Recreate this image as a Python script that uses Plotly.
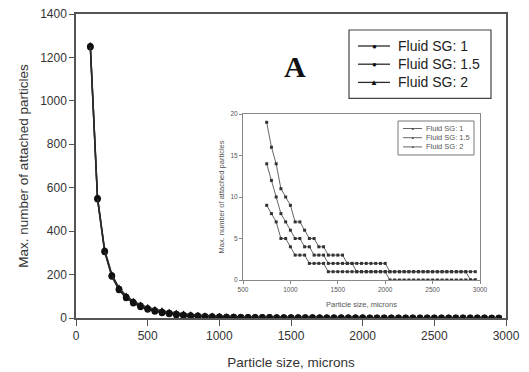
import plotly.graph_objects as go

# ---- data ----
sizes = list(range(100, 3000, 50))  # 100 .. 2950 microns

sg1_small = [1247, 547, 304, 191, 129, 92, 68, 51, 39, 30, 23, 18, 13]
sg15_small = [1252, 552, 309, 196, 134, 97, 73, 56, 44, 35, 28, 23, 18]
sg2_small = [1256, 556, 313, 200, 139, 102, 78, 61, 49, 40, 34, 28, 23]

# values from 750 .. 2950 (inset)
inset_sizes = list(range(750, 3000, 50))
sg1_tail = [9, 8, 7, 5, 5, 4, 3, 3, 3, 2, 2, 2, 2] + [1] * 13 + [0] * 19
sg15_tail = [14, 12, 10, 8, 7, 6, 5, 5, 4, 4, 3, 3, 3] + [2] * 6 + [1] * 24 + [0] * 2
sg2_tail = [19, 16, 14, 11, 10, 9, 7, 7, 6, 5, 5, 4, 4] + [3] * 4 + [2] * 9 + [1] * 19

sg1 = sg1_small + sg1_tail
sg15 = sg15_small + sg15_tail
sg2 = sg2_small + sg2_tail

names = ["Fluid SG: 1", "Fluid SG: 1.5", "Fluid SG: 2"]
series = [sg1, sg15, sg2]
tails = [sg1_tail, sg15_tail, sg2_tail]
symbols = ["circle", "circle", "triangle-up"]
legend_glyphs = ["●", "●", "▲"]

fig = go.Figure()
for nm, ys, sym in zip(names, series, symbols):
    fig.add_trace(go.Scatter(
        x=sizes, y=ys, name=nm, mode="lines+markers",
        line=dict(color="#2a2a2a", width=1.5),
        marker=dict(symbol=sym, size=6.5, color="#111111"),
        xaxis="x", yaxis="y", showlegend=False,
    ))
for nm, ys in zip(names, tails):
    fig.add_trace(go.Scatter(
        x=inset_sizes, y=ys, name=nm, mode="lines+markers",
        line=dict(color="#666666", width=1),
        marker=dict(symbol="square", size=3, color="#333333"),
        xaxis="x2", yaxis="y2", showlegend=False,
    ))

# plot-area geometry (pixels) for converting legend placement to paper coords
L, T, W, H = 76, 14, 430, 304
def px(x):
    return (x - L) / W
def py(y):
    return (T + H - y) / H

shapes = []
annotations = []

# main legend (drawn manually for compact spacing)
main_font = 14
row_gap = main_font * 1.3
row0 = 46
shapes.append(dict(type="rect", xref="paper", yref="paper",
                   x0=px(349), x1=px(491), y0=py(row0 + 2 * row_gap + 16), y1=py(row0 - 16),
                   line=dict(color="#444444", width=1.2), fillcolor="white", layer="above"))
for i, g in enumerate(legend_glyphs):
    yc = row0 + row_gap * i
    shapes.append(dict(type="line", xref="paper", yref="paper",
                       x0=px(358), x1=px(390), y0=py(yc), y1=py(yc),
                       line=dict(color="#2a2a2a", width=1.3), layer="above"))
    annotations.append(dict(text=g, x=px(374), y=py(yc), xref="paper", yref="paper",
                            xanchor="center", yanchor="middle", showarrow=False,
                            font=dict(size=8, color="#111111")))
annotations.append(dict(text="<br>".join(names), x=px(396), y=py(row0 + row_gap),
                        xref="paper", yref="paper", align="left",
                        xanchor="left", yanchor="middle", showarrow=False,
                        font=dict(family="Liberation Sans, Arial", size=main_font, color="#222222")))

# inset legend
shapes.append(dict(type="rect", xref="paper", yref="paper",
                   x0=px(398), x1=px(474), y0=py(155), y1=py(121),
                   line=dict(color="#777777", width=1), fillcolor="white", layer="above"))
for i, nm in enumerate(names):
    yc = 128.5 + 9.2 * i
    shapes.append(dict(type="line", xref="paper", yref="paper",
                       x0=px(403), x1=px(422), y0=py(yc), y1=py(yc),
                       line=dict(color="#666666", width=1), layer="above"))
    annotations.append(dict(text="■", x=px(412.5), y=py(yc), xref="paper", yref="paper",
                            xanchor="center", yanchor="middle", showarrow=False,
                            font=dict(size=3, color="#333333")))
    annotations.append(dict(text=nm, x=px(424), y=py(yc), xref="paper", yref="paper",
                            xanchor="left", yanchor="middle", showarrow=False,
                            font=dict(family="Liberation Sans, Arial", size=7.5, color="#555555")))

annotations.append(dict(
    text="<b>A</b>", x=px(295), y=py(67), xref="paper", yref="paper",
    xanchor="center", yanchor="middle", showarrow=False,
    font=dict(family="Liberation Serif, Times New Roman", size=30, color="#111111"),
))

axis_font = dict(family="Liberation Sans, Arial", size=12, color="#333333")
fig.update_layout(
    width=529, height=372,
    margin=dict(l=L, r=529 - L - W, t=T, b=372 - T - H, autoexpand=False),
    paper_bgcolor="white", plot_bgcolor="white",
    font=dict(family="Liberation Sans, Arial", color="#222222"),
    showlegend=False,
    xaxis=dict(
        range=[0, 3000], tickvals=[0, 500, 1000, 1500, 2000, 2500, 3000],
        showgrid=False, zeroline=False, showline=True, mirror=True, automargin=False,
        linecolor="#555555", linewidth=1.5, ticks="outside", ticklen=6,
        tickcolor="#555555", tickfont=axis_font,
        title=dict(text="Particle size, microns", font=dict(size=13.5, color="#333333"), standoff=15),
        domain=[0, 1],
    ),
    yaxis=dict(
        range=[0, 1400], tickvals=[0, 200, 400, 600, 800, 1000, 1200, 1400],
        showgrid=False, zeroline=False, showline=True, mirror=True, automargin=False,
        linecolor="#555555", linewidth=1.5, ticks="outside", ticklen=5,
        tickcolor="#555555", tickfont=axis_font,
        title=dict(text="Max. number of attached particles", font=dict(size=13.5, color="#333333"), standoff=8),
        domain=[0, 1],
    ),
    xaxis2=dict(
        range=[500, 3000], tickvals=[500, 1000, 1500, 2000, 2500, 3000],
        anchor="y2", domain=[px(243), px(480)], automargin=False,
        showgrid=False, zeroline=False, showline=True, mirror=True,
        linecolor="#888888", linewidth=1, ticks="outside", ticklen=3,
        tickcolor="#888888", tickfont=dict(size=6.5, color="#555555"),
        title=dict(text="Particle size, microns", font=dict(size=7.5, color="#555555"), standoff=9),
    ),
    yaxis2=dict(
        range=[0, 20], tickvals=[0, 5, 10, 15, 20],
        anchor="x2", domain=[py(280), py(114)], automargin=False,
        showgrid=False, zeroline=False, showline=True, mirror=True,
        linecolor="#888888", linewidth=1, ticks="outside", ticklen=3,
        tickcolor="#888888", tickfont=dict(size=6.5, color="#555555"),
        title=dict(text="Max. number of attached particles", font=dict(size=7.5, color="#555555"), standoff=4),
    ),
    shapes=shapes,
    annotations=annotations,
)

fig.write_html("out.html")
